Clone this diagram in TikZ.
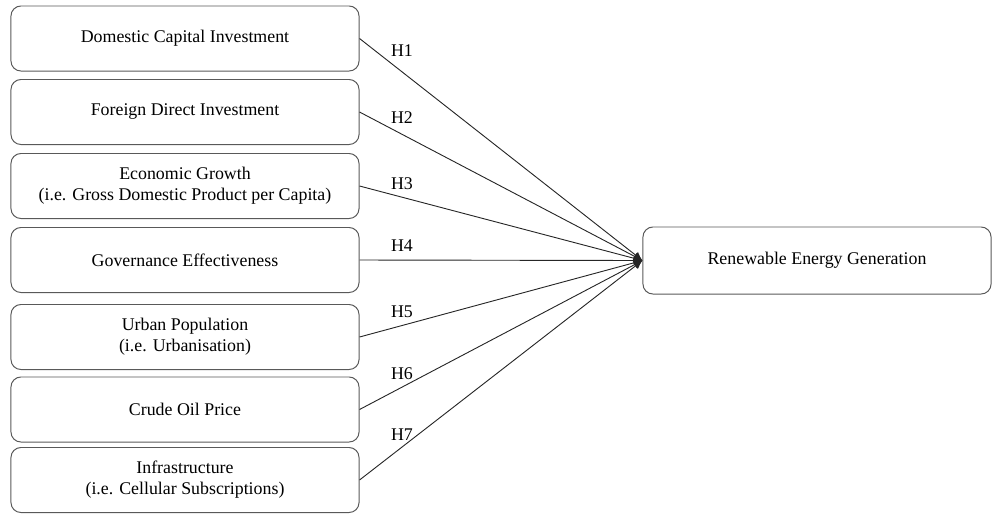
\documentclass[tikz,border=0pt]{standalone}
\usepackage{fontspec}
\setmainfont{Liberation Serif}
\usetikzlibrary{arrows.meta}

\tikzset{
  factor/.style={draw=black!65, line width=0.7pt, rounded corners=0.25cm,
    minimum width=8.7cm, minimum height=1.625cm, align=center,
    font=\fontsize{12.7}{15}\selectfont},
  link/.style={draw=black!85, line width=0.65pt, -{Latex[length=0.22cm,width=0.2cm]}},
  hlabel/.style={inner sep=0pt, font=\fontsize{12.7}{15}\selectfont},
}

\begin{document}
\begin{tikzpicture}[x=0.025cm, y=-0.025cm]
    \useasboundingbox (0,0) rectangle (1001,516);

    % 1. Cac bien doc lap (cot trai)
    \node[factor] (dci) at (185, 38.5) {Domestic Capital Investment};
    \node[factor] (fdi) at (185, 112) {Foreign Direct Investment};
    \node[factor] (gdp) at (185, 186) {Economic Growth\\(i.e. Gross Domestic Product per Capita)};
    \node[factor] (gov) at (185, 260) {Governance Effectiveness};
    \node[factor] (urb) at (185, 337) {Urban Population\\(i.e. Urbanisation)};
    \node[factor] (oil) at (185, 409.5) {Crude Oil Price};
    \node[factor] (inf) at (185, 480) {Infrastructure\\(i.e. Cellular Subscriptions)};

    % 2. Bien phu thuoc
    \node[factor, minimum height=1.675cm] (reg) at (817, 260.5) {Renewable Energy Generation};

    % 3. Gia thuyet H1 - H7
    \foreach \src/\lab/\dy in {dci/H1/15.4, fdi/H2/12.2, gdp/H3/9.3, gov/H4/10,
                               urb/H5/9.6, oil/H6/9.3, inf/H7/8.5} {
        \draw[link] (\src.east) -- node[hlabel, pos=0.15, yshift=\dy pt] {\lab} (reg.west);
    }

\end{tikzpicture}
\end{document}
